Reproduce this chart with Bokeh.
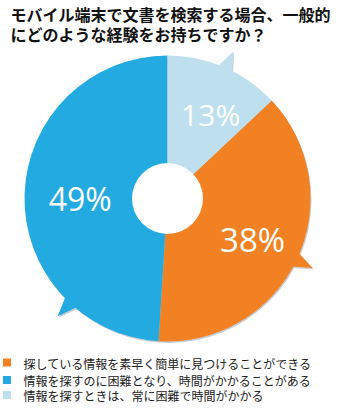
import numpy as np
from bokeh.plotting import figure
from bokeh.models import Range1d, ColumnDataSource
from bokeh.core.properties import value
from bokeh.embed import file_html
from bokeh.resources import INLINE

# ---------------- data ----------------
title_lines = ["モバイル端末で文書を検索する場合、一般的", "にどのような経験をお持ちですか？"]
categories = [
    "探している情報を素早く簡単に見つけることができる",
    "情報を探すのに困難となり、時間がかかることがある",
    "情報を探すときは、常に困難で時間がかかる",
]
values = [38, 49, 13]
colors = ["#F28123", "#22AAE1", "#BEE0EE"]
pie_order = [2, 0, 1]            # clockwise from 12 o'clock

# ---------------- layout ----------------
W, H = 355, 410
def X(ix): return ix
def Y(iy): return H - iy

cx, cy = X(167), Y(198)
R_OUT, R_HOLE = 143, 35.5
tail_angles = [-25.6, 227.0, 66.0]     # degrees, per category
tail_half, tail_r = 3.6, 161
label_angles = [-19.0, 172.5, 65.5]
label_radii = [90, 88, 104]
label_sizes = [33, 32, 30]

p = figure(width=W, height=H, x_range=Range1d(0, W), y_range=Range1d(0, H),
           output_backend="svg", toolbar_location=None, min_border=0)
p.axis.visible = False
p.grid.visible = False
p.outline_line_color = None
p.background_fill_color = "white"
p.border_fill_color = "white"

# angles
total = sum(values)
start_cw = {}
cum = 0.0
for k in pie_order:
    a0 = 90 - cum / total * 360
    cum += values[k]
    a1 = 90 - cum / total * 360
    start_cw[k] = (a1, a0)

def tail_poly(k, dx=0.0, dy=0.0):
    a = tail_angles[k]
    pts = [(R_OUT - 4, a - tail_half), (tail_r, a), (R_OUT - 4, a + tail_half)]
    xs = [cx + r * np.cos(np.radians(t)) + dx for r, t in pts]
    ys = [cy + r * np.sin(np.radians(t)) + dy for r, t in pts]
    return xs, ys

# shadow
sh_dx, sh_dy = 1.0, -1.5
p.circle(x=[cx + sh_dx], y=[cy + sh_dy], radius=R_OUT, fill_color="#C9CCD3", line_color=None)
sx, sy = zip(*[tail_poly(k, sh_dx, sh_dy) for k in range(3)])
p.patches(xs=list(sx), ys=list(sy), fill_color="#C9CCD3", line_color=None)

# wedges
src = ColumnDataSource(dict(
    start=[np.radians(start_cw[k][0]) for k in range(3)],
    end=[np.radians(start_cw[k][1]) for k in range(3)],
    color=colors,
))
p.wedge(x=cx, y=cy, radius=R_OUT, start_angle="start", end_angle="end",
        fill_color="color", line_color=None, source=src)

# tails
tx, ty = zip(*[tail_poly(k) for k in range(3)])
p.patches(xs=list(tx), ys=list(ty), fill_color=colors, line_color=None)

# hole
p.circle(x=[cx], y=[cy], radius=R_HOLE, fill_color="white", line_color=None)

# labels
for k in range(3):
    a = np.radians(label_angles[k])
    lx = cx + label_radii[k] * np.cos(a)
    ly = cy + label_radii[k] * np.sin(a) - 0.36 * label_sizes[k]
    p.text(x=[lx], y=[ly], text=[f"{values[k]}%"], text_font=value("Open Sans"),
           text_font_size=f"{label_sizes[k]}px", text_color="white",
           text_align="center", text_baseline="alphabetic")

# title
p.text(x=[X(10)] * 2, y=[Y(13.5), Y(33)], text=title_lines,
       text_font=value("Noto Sans CJK JP"), text_font_size="16px",
       text_font_style="bold", text_color="#111111",
       text_align="left", text_baseline="middle")

# legend
leg_y = [Y(362), Y(379.5), Y(394.5)]
p.rect(x=[X(6.5)] * 3, y=leg_y, width=8, height=8, fill_color=colors, line_color=None)
p.text(x=[X(23)] * 3, y=[yy - 0.5 for yy in leg_y], text=categories,
       text_font=value("Noto Sans CJK JP"), text_font_size="12px",
       text_color="#222222", text_align="left", text_baseline="middle")

open("out.html", "w").write(file_html(p, INLINE))
